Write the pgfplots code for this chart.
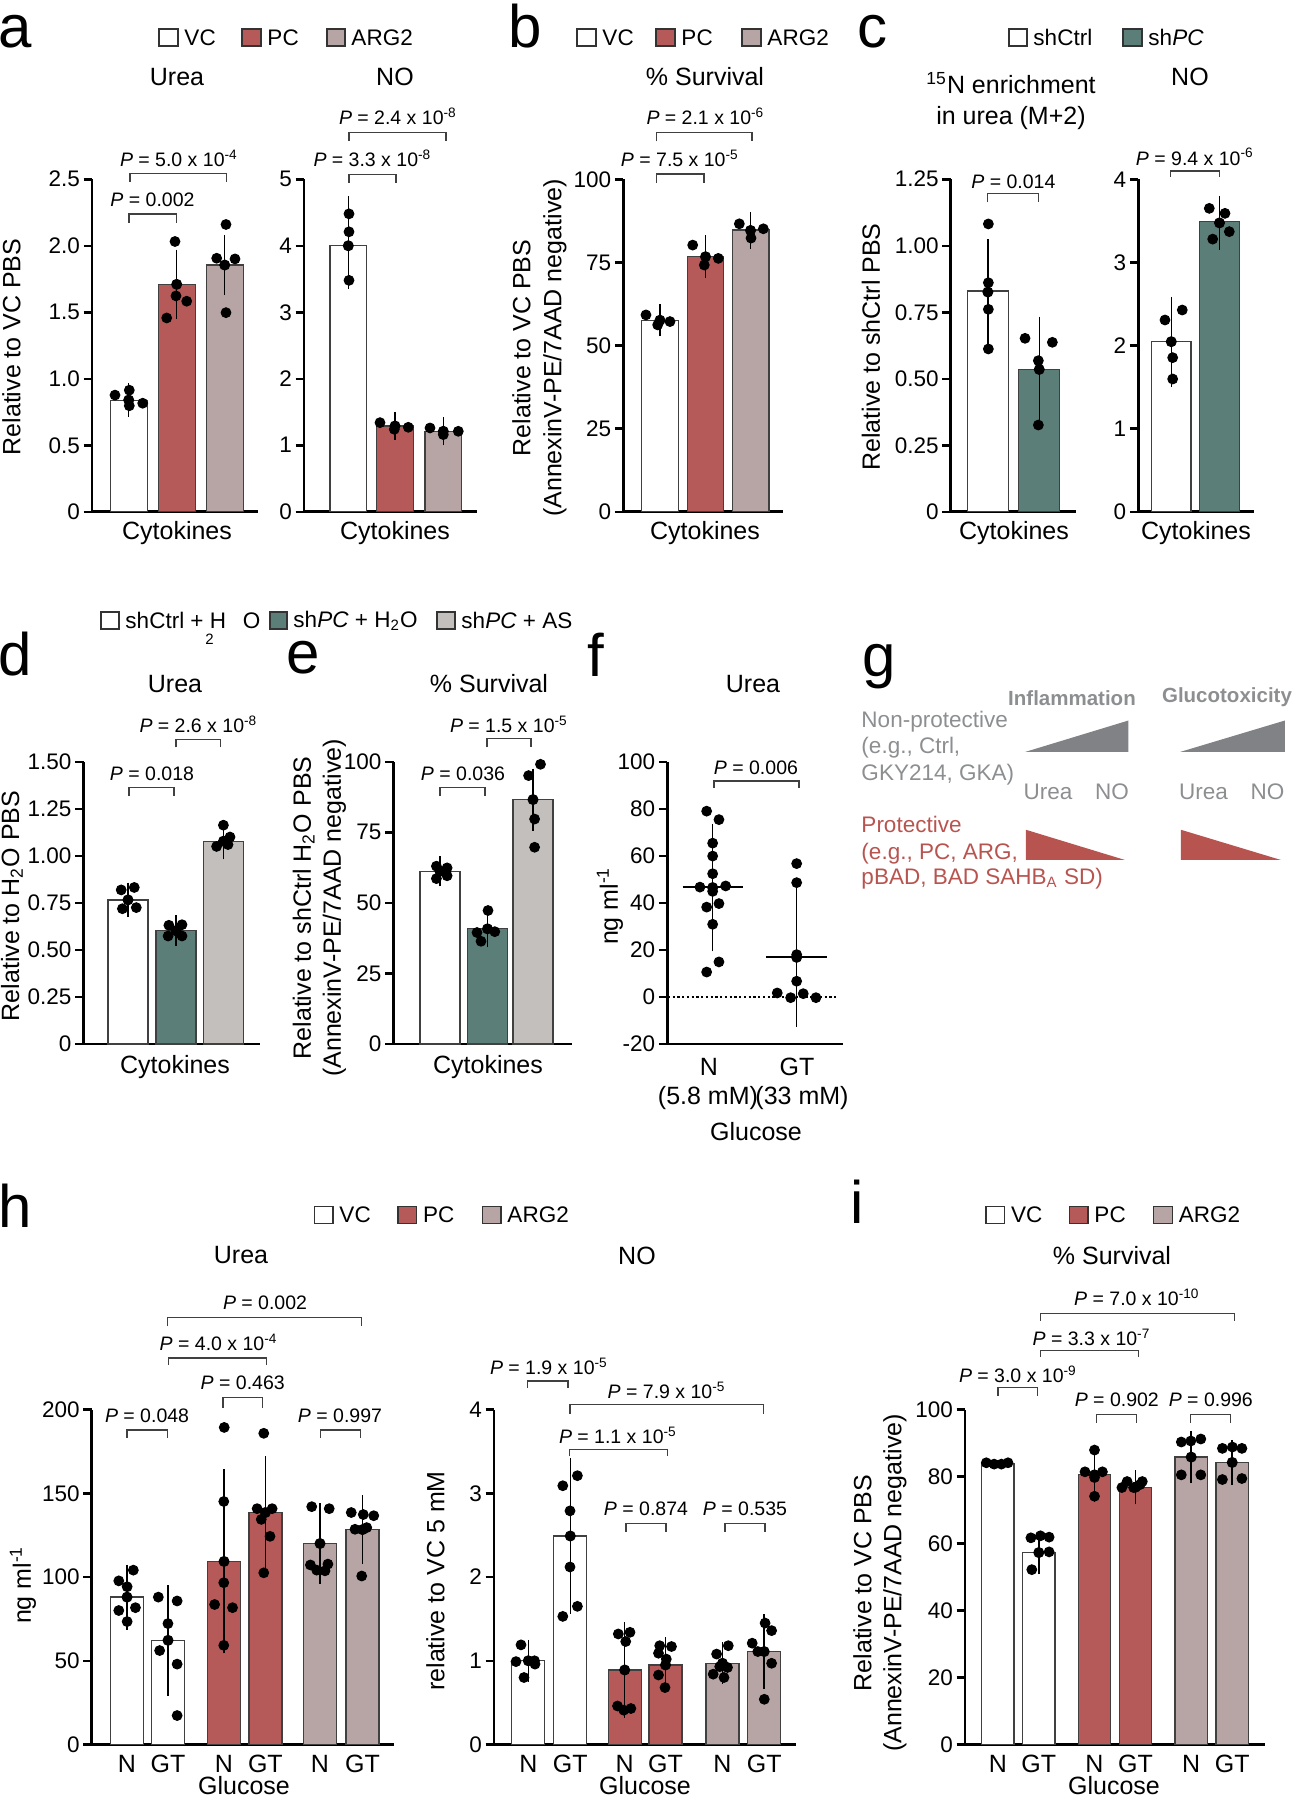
\documentclass[border=0pt]{standalone}
\usepackage{pgfplots}
\pgfplotsset{compat=1.18}
\usepackage{fontspec}
\setmainfont{Liberation Sans}

\definecolor{pcred}{RGB}{181,90,88}
\definecolor{argc}{RGB}{183,165,165}
\definecolor{shpc}{RGB}{91,126,121}
\definecolor{asgray}{RGB}{194,191,189}
\definecolor{ggray}{RGB}{128,130,133}
\definecolor{gtext}{RGB}{140,142,144}
\definecolor{gred}{RGB}{184,84,80}

\newcommand{\fs}[1]{\fontsize{#1}{#1}\selectfont}
\newcommand{\fsl}[2]{\fontsize{#1}{#2}\selectfont}
\newcommand{\pe}[2]{\textit{P} = #1 x 10\textsuperscript{-#2}}
\newcommand{\pv}[1]{\textit{P} = #1}
% bracket: x1, x2, ytop, yfoot, label x, label y, text
\newcommand{\brk}[7]{\draw[bk] (axis cs:#1,#4) |- (axis cs:#2,#3) -- (axis cs:#2,#4);
  \node[pvs] at (axis cs:#5,#6) {#7};}
% legend square: x1, x2, y, colour, text
\newcommand{\legsq}[5]{\draw[fill=#4, draw=black!80, line width=0.5pt] (#1,#3-8.5) rectangle (#2,#3+8.5);
  \node[anchor=west, font=\fs{9}, inner sep=0pt] at (#2+6,#3) {#5};}

\tikzset{bk/.style={line width=0.5pt, black!75}, pvs/.style={font=\fs{7.8}, inner sep=0pt}}

\pgfplotsset{
  panel/.style={scale only axis, anchor=south west, clip=false,
    axis x line*=bottom, axis y line*=left,
    axis line style={line width=1.1pt},
    xtick=\empty, ymin=0,
    ytick style={line width=1pt, black}, tick align=outside, major tick length=3.4pt,
    yticklabel style={font=\fs{9}, inner sep=1.2pt}},
  mybar/.style={ybar, bar shift=0pt, bar width=#1, draw=black!75, line width=0.5pt},
  pts/.style={only marks, mark=*, mark size=1.95pt, black},
  myerr/.style={black, only marks, mark=none, error bars/.cd, y dir=both, y explicit,
    error bar style={line width=0.6pt}, error mark options={line width=0.6pt, mark size=#1}},
}

\begin{document}
\begin{tikzpicture}
\path[use as bounding box] (0pt,0pt) rectangle (518.4pt,-720pt);

% ---------- a: Urea
\begin{axis}[panel, at={(36.8pt,-204.7pt)}, width=66.4pt, height=133pt,
  xmin=92, xmax=258, ymax=2.5, ytick={0,0.5,1,1.5,2,2.5}, yticklabels={0,0.5,1.0,1.5,2.0,2.5}]
\addplot[mybar=37, fill=white] coordinates {(128.7,0.837)};
\addplot[mybar=37, fill=pcred] coordinates {(176.7,1.71)};
\addplot[mybar=37, fill=argc] coordinates {(224.7,1.855)};
\addplot[myerr=4.6pt] coordinates {(128.7,0.84) +- (0,0.04) (176.7,1.71) +- (0,0.175) (224.7,1.855) +- (0,0.14)};
\addplot[pts] coordinates {(115,0.877)(129.3,0.914)(129.3,0.797)(142.7,0.816)
  (175,2.032)(176,1.623)(186.7,1.583)(166.7,1.457)
  (226,2.16)(216.7,1.906)(235,1.901)(226,1.497)};
\brk{129}{176.7}{2.238}{2.174}{152.5}{2.345}{\pv{0.002}}
\brk{130}{226.7}{2.545}{2.48}{179}{2.66}{\pe{5.0}{4}}
\end{axis}

% ---------- a: NO
\begin{axis}[panel, at={(121.6pt,-204.7pt)}, width=69.2pt, height=133pt,
  xmin=304, xmax=477, ymax=5, ytick={0,1,2,3,4,5}, yticklabels={0,1,2,3,4,5}]
\addplot[mybar=36.7, fill=white] coordinates {(348.3,4.0)};
\addplot[mybar=36.7, fill=pcred] coordinates {(395,1.29)};
\addplot[mybar=36.7, fill=argc] coordinates {(443.3,1.21)};
\addplot[myerr=4.6pt] coordinates {(348.3,4.0) += (0,0.57) -= (0,0.47) (395,1.29) +- (0,0.04) (443.3,1.21) +- (0,0.04)};
\addplot[pts] coordinates {(349,4.48)(349,4.21)(349,3.48)
  (380,1.34)(394.3,1.24)(408.3,1.27)
  (430,1.26)(443.3,1.16)(458.3,1.21)};
\brk{349}{396}{5.07}{4.95}{372.5}{5.32}{\pe{3.3}{8}}
\brk{349}{446}{5.70}{5.58}{398}{5.95}{\pe{2.4}{8}}
\end{axis}

% ---------- b
\begin{axis}[panel, at={(249.3pt,-204.7pt)}, width=63.8pt, height=133pt,
  xmin=623.3, xmax=782.7, ymax=100, ytick={0,25,50,75,100}, yticklabels={0,25,50,75,100}]
\addplot[mybar=36.7, fill=white] coordinates {(660,57.5)};
\addplot[mybar=36.7, fill=pcred] coordinates {(705.5,76.7)};
\addplot[mybar=36.7, fill=argc] coordinates {(750.5,84.75)};
\addplot[myerr=4.6pt] coordinates {(660,57.6) +- (0,1.4) (705.5,76.7) +- (0,3.0) (750.5,84.6) +- (0,2.05)};
\addplot[pts] coordinates {(646,59.2)(657.7,56.2)(670,57.2)
  (692.7,80.2)(704.3,74.2)(718.3,76.2)
  (739.3,86.6)(751,82.3)(763.3,85.1)};
\brk{656.7}{704}{101.6}{98.8}{680}{106.2}{\pe{7.5}{5}}
\brk{656.7}{752}{114.1}{111.4}{705.5}{118.9}{\pe{2.1}{6}}
\end{axis}

% ---------- c: 15N urea
\begin{axis}[panel, at={(380.3pt,-204.7pt)}, width=50pt, height=133pt,
  xmin=950.7, xmax=1075.7, ymax=1.25, ytick={0,0.25,0.5,0.75,1,1.25}, yticklabels={0,0.25,0.50,0.75,1.00,1.25}]
\addplot[mybar=41, fill=white] coordinates {(987.8,0.830)};
\addplot[mybar=41, fill=shpc] coordinates {(1039.2,0.535)};
\addplot[myerr=5pt] coordinates {(987.8,0.826) +- (0,0.152) (1039.2,0.535) +- (0,0.152)};
\addplot[pts] coordinates {(988.3,1.082)(988.3,0.861)(988.3,0.761)(988.3,0.612)
  (1025,0.652)(1052.3,0.637)(1038.3,0.568)(1038.3,0.326)};
\brk{987.3}{1038.3}{1.197}{1.163}{1013.3}{1.241}{\pv{0.014}}
\end{axis}

% ---------- c: NO
\begin{axis}[panel, at={(455.3pt,-204.7pt)}, width=46.3pt, height=133pt,
  xmin=1138.3, xmax=1254, ymax=4, ytick={0,1,2,3,4}, yticklabels={0,1,2,3,4}]
\addplot[mybar=39.3, fill=white] coordinates {(1171.3,2.046)};
\addplot[mybar=39.3, fill=shpc] coordinates {(1219.5,3.49)};
\addplot[myerr=5pt] coordinates {(1171.3,2.046) +- (0,0.39) (1219.5,3.475) +- (0,0.175)};
\addplot[pts] coordinates {(1165,2.307)(1182.3,2.427)(1172.7,1.854)(1172.7,1.597)
  (1209.3,3.65)(1225,3.59)(1212.7,3.28)(1229.3,3.37)};
\brk{1170.7}{1219.3}{4.10}{4.03}{1195}{4.27}{\pe{9.4}{6}}
\end{axis}

% ---------- d
\begin{axis}[panel, at={(33.4pt,-417.6pt)}, width=70.6pt, height=112.9pt,
  xmin=83.5, xmax=260, ymax=1.5, ytick={0,0.25,0.5,0.75,1,1.25,1.5},
  yticklabels={0,0.25,0.50,0.75,1.00,1.25,1.50}]
\addplot[mybar=40, fill=white] coordinates {(128,0.766)};
\addplot[mybar=40, fill=shpc] coordinates {(176,0.602)};
\addplot[mybar=40, fill=asgray] coordinates {(223.5,1.078)};
\addplot[myerr=4.6pt] coordinates {(128,0.766) +- (0,0.031) (176,0.602) +- (0,0.02) (223.5,1.078) +- (0,0.036)};
\addplot[pts] coordinates {(121.2,0.819)(134.3,0.832)(122.4,0.719)(136.3,0.725)
  (168.9,0.631)(182,0.634)(168.1,0.574)(182,0.574)
  (223.4,1.163)(216.6,1.05)(228,1.06)(230,1.10)};
\brk{129}{174}{1.365}{1.317}{152}{1.436}{\pv{0.018}}
\brk{176}{220.6}{1.619}{1.577}{198.5}{1.70}{\pe{2.6}{8}}
\end{axis}

% ---------- e
\begin{axis}[panel, at={(157.4pt,-417.6pt)}, width=71.4pt, height=112.9pt,
  xmin=393.5, xmax=572, ymax=100, ytick={0,25,50,75,100}, yticklabels={0,25,50,75,100}]
\addplot[mybar=40, fill=white] coordinates {(440,61.2)};
\addplot[mybar=40, fill=shpc] coordinates {(487.5,40.8)};
\addplot[mybar=40, fill=asgray] coordinates {(533,86.6)};
\addplot[myerr=4.6pt] coordinates {(440,61.2) +- (0,1.3) (487.5,40.8) +- (0,2.5) (533,86.6) +- (0,6.9)};
\addplot[pts] coordinates {(436.4,63.0)(447.1,62.4)(436.4,58.6)(447.1,59.6)
  (488,47.3)(477,39.5)(494.8,39.8)(481,36.4)
  (540.5,99.1)(528.6,95.1)(534.6,79.7)(534.6,69.7)};
\brk{440}{485}{91.0}{87.8}{463}{95.7}{\pv{0.036}}
\brk{487}{531}{108.2}{105.1}{509}{113.3}{\pe{1.5}{5}}
\end{axis}

% ---------- f
\begin{axis}[panel, at={(266.9pt,-417.6pt)}, width=70.4pt, height=112.9pt,
  xmin=667.3, xmax=843.3, ymin=-20, ymax=100, ytick={-20,0,20,40,60,80,100},
  yticklabels={-20,0,20,40,60,80,100}]
\addplot[densely dotted, line width=0.9pt, black] coordinates {(668,0)(836.7,0)};
\addplot[black, line width=0.7pt] coordinates {(682.7,46.7)(742.7,46.7)};
\addplot[black, line width=0.7pt] coordinates {(766,16.9)(826.7,16.9)};
\addplot[myerr=6.2pt] coordinates {(712.7,46.5) +- (0,20.55) (796.7,16.85) +- (0,22.95)};
\addplot[pts] coordinates {(706.7,79.0)(719,75.4)(712.7,65.4)(712.7,59.9)(712.7,52.4)(700,46.7)(725.7,47.2)
  (712.7,44.9)(706.7,38.2)(719,39.7)(712.7,30.9)(719,14.9)(706.7,10.6)
  (796.7,56.7)(796.7,48.6)(796.7,18.0)(796.7,6.7)(777.3,1.7)(790.7,-0.3)(803.3,1.4)(816,-0.3)};
\brk{714}{799}{91.8}{88.8}{756}{97.5}{\pv{0.006}}
\end{axis}

% ---------- h: Urea
\begin{axis}[panel, at={(36.7pt,-697.8pt)}, width=120.8pt, height=134pt,
  xmin=91.7, xmax=393.75, ymax=200, ytick={0,50,100,150,200}, yticklabels={0,50,100,150,200}]
\addplot[mybar=33, fill=white] coordinates {(127,88.0)(168,62.2)};
\addplot[mybar=33, fill=pcred] coordinates {(224,109.3)(265.4,138.5)};
\addplot[mybar=33, fill=argc] coordinates {(320,120.0)(362.5,128.3)};
\addplot[myerr=4.3pt] coordinates {(127,88.0) +- (0,13) (168,62.2) +- (0,26.6) (224,109.3) +- (0,48.5)
  (265.4,138.5) +- (0,27.2) (320,120.0) +- (0,17.5) (362.5,128.3) +- (0,14)};
\addplot[pts] coordinates {(133.3,104.1)(118.75,97.7)(127.1,94.2)(118.75,80.0)(135.4,81.7)(127.1,73.4)
  (158.3,88.0)(177.1,85.7)(167.9,72.2)(159.6,56.1)(177.1,48.0)(177.1,17.3)
  (224.2,189.3)(223.75,145.1)(223.75,96.6)(214.6,83.6)(232.5,81.7)(223.75,59.2)
  (263.75,185.8)(257.1,140.8)(272.1,140.8)(261.25,134.4)(270,124.3)(263.75,102.5)
  (311.7,142.0)(329.2,140.8)(310.4,107.2)(327.9,107.7)(316.7,104.1)(325,103.7)
  (351.25,138.5)(363.3,137.3)(373.75,136.6)(355,128.5)(366.7,129.5)(361.7,100.6)};
\brk{127}{167.5}{187.7}{183}{147}{196.4}{\pv{0.048}}
\brk{223}{262.5}{207.1}{201.2}{242.7}{215.9}{\pv{0.463}}
\brk{320.8}{360.4}{187.7}{183}{340}{196.4}{\pv{0.997}}
\brk{168.75}{266.7}{230.8}{226.7}{218.7}{240.2}{\pe{4.0}{4}}
\brk{167.5}{361.7}{254.9}{249.7}{265}{263.9}{\pv{0.002}}
\end{axis}

% ---------- h: NO
\begin{axis}[panel, at={(197.6pt,-697.8pt)}, width=120.8pt, height=134pt,
  xmin=494, xmax=796, ymax=4, ytick={0,1,2,3,4}, yticklabels={0,1,2,3,4}]
\addplot[mybar=33, fill=white] coordinates {(528.3,1.0)(570.3,2.49)};
\addplot[mybar=33, fill=pcred] coordinates {(624.7,0.89)(665.5,0.95)};
\addplot[mybar=33, fill=argc] coordinates {(722.5,0.97)(764.2,1.11)};
\addplot[myerr=4.3pt] coordinates {(528.3,1.0) +- (0,0.12) (570.3,2.49) +- (0,0.8) (624.7,0.89) +- (0,0.44)
  (665.5,0.95) +- (0,0.2) (722.5,0.97) +- (0,0.12) (764.2,1.11) +- (0,0.32)};
\addplot[pts] coordinates {(521,1.19)(516,0.99)(534.5,1.00)(535,0.96)(524,0.80)
  (577.4,3.21)(562.8,3.09)(570,2.79)(570,2.12)(577.4,1.65)(562.8,1.53)
  (618.3,1.32)(630,1.34)(625.7,1.23)(617.5,0.46)(623.8,0.41)(630.9,0.43)
  (659.7,1.18)(671.5,1.17)(658.5,1.09)(666.3,1.02)(658.5,0.83)(665,0.68)
  (716.6,1.08)(728.3,1.18)(719.7,0.93)(727.5,0.92)(724,0.80)(713.2,0.84)
  (765.1,1.45)(771.6,1.36)(752.2,1.21)(757.8,1.11)(771.6,0.97)(764.3,0.54)};
\brk{527.5}{568}{4.34}{4.26}{549}{4.52}{\pe{1.9}{5}}
\brk{569.3}{667.3}{3.52}{3.44}{618}{3.69}{\pe{1.1}{5}}
\brk{570}{763.3}{4.06}{3.95}{666.7}{4.23}{\pe{7.9}{5}}
\brk{626}{666}{2.64}{2.54}{646}{2.82}{\pv{0.874}}
\brk{725}{765}{2.64}{2.54}{745}{2.82}{\pv{0.535}}
\end{axis}

% ---------- i
\begin{axis}[panel, at={(386pt,-697.8pt)}, width=120pt, height=134pt,
  xmin=965, xmax=1265, ymax=100, ytick={0,20,40,60,80,100}, yticklabels={0,20,40,60,80,100}]
\addplot[mybar=32.5, fill=white] coordinates {(997.8,83.8)(1038.8,57.3)};
\addplot[mybar=32.5, fill=pcred] coordinates {(1094.5,80.5)(1135.5,76.8)};
\addplot[mybar=32.5, fill=argc] coordinates {(1191.2,85.8)(1232.2,84.2)};
\addplot[myerr=4.2pt] coordinates {(1038.8,57.3) +- (0,3.4) (1094.5,80.5) +- (0,5.0)
  (1135.5,76.8) +- (0,2.0) (1191.2,85.8) +- (0,4.7) (1232.2,84.2) +- (0,3.6)};
\addplot[pts] coordinates {(986.3,84.1)(994.1,83.7)(1001.4,83.7)(1008,84.1)
  (1030.9,61.7)(1040.4,62.3)(1049.1,61.9)(1049.1,57.5)(1031.8,52.2)
  (1094.5,87.9)(1085,81.4)(1102.4,81.4)(1094.5,79.7)(1094.5,74.1)
  (1127.1,78.5)(1142.3,78.5)(1121.9,76.7)(1133.6,76.7)(1140.1,77.6)
  (1181.3,90.3)(1190.8,90.6)(1200.8,91.2)(1181.3,80.5)(1200.8,80.5)
  (1222.4,88.4)(1232.4,88.8)(1241.9,88.4)(1222.4,79.1)(1241.9,79.4)};
\brk{998}{1037.4}{106.5}{103.9}{1018}{110.6}{\pe{3.0}{9}}
\brk{1096.8}{1136.6}{98.6}{96.0}{1116.8}{102.9}{\pv{0.902}}
\brk{1190.8}{1230.6}{98.6}{96.0}{1210.8}{102.9}{\pv{0.996}}
\brk{1040.4}{1138.8}{117.7}{115.7}{1091.6}{121.6}{\pe{3.3}{7}}
\brk{1040.4}{1234.5}{128.7}{126.5}{1137}{133.4}{\pe{7.0}{10}}
\end{axis}

% ---------- texts, legends, schematic (pixel grid of the reference)
\begin{scope}[x=0.4pt, y=-0.4pt]
% panel letters
\foreach \l/\x/\y in {a/-2/47, b/508/47, c/857/47, d/-2/676, e/286/674, f/587/677, g/862/677, h/-2/1227.7, i/850/1224}
  \node[anchor=base west, inner sep=0pt, font=\fs{24}] at (\x,\y) {\l};

% legends
\legsq{159}{178}{37.4}{white}{VC}
\legsq{242}{261}{37.4}{pcred}{PC}
\legsq{327}{345}{37.4}{argc}{ARG2}
\legsq{577}{596}{37.4}{white}{VC}
\legsq{656}{675}{37.4}{pcred}{PC}
\legsq{742}{761}{37.4}{argc}{ARG2}
\legsq{1009}{1027}{37.4}{white}{shCtrl}
\legsq{1123}{1142}{37.4}{shpc}{sh\textit{PC}}
\legsq{101}{119}{620.5}{white}{shCtrl + H\hspace{0.75em}O}
\node[font=\fs{6}, inner sep=0pt] at (209.5,639.5) {2};
\legsq{270}{287}{620.5}{shpc}{sh\textit{PC} + H\textsubscript{2}O}
\legsq{437}{455}{620.5}{asgray}{sh\textit{PC} + AS}
\legsq{314.6}{333}{1215}{white}{VC}
\legsq{398}{416.7}{1215}{pcred}{PC}
\legsq{482.5}{501}{1215}{argc}{ARG2}
\legsq{986}{1004.7}{1215}{white}{VC}
\legsq{1069.7}{1088}{1215}{pcred}{PC}
\legsq{1153.8}{1172.4}{1215}{argc}{ARG2}

% titles
\begin{scope}[every node/.style={font=\fs{10}, inner sep=0pt}]
\node at (177,76.7) {Urea};
\node at (395,76.7) {NO};
\node at (705,76.7) {\% Survival};
\node[align=center, font=\fsl{10}{12.3}] at (1011,101) {\textsuperscript{15}N enrichment\\in urea (M+2)};
\node at (1190,76.7) {NO};
\node at (175,684) {Urea};
\node at (489,684) {\% Survival};
\node at (753,684) {Urea};
\node at (241,1255.5) {Urea};
\node at (637,1255.5) {NO};
\node at (1112,1255.5) {\% Survival};
% x labels
\node at (177,533) {Cytokines};
\node at (395,533) {Cytokines};
\node at (705,533) {Cytokines};
\node at (1014,533) {Cytokines};
\node at (1196,533) {Cytokines};
\node at (175,1067) {Cytokines};
\node at (488,1067) {Cytokines};
\node at (709,1067) {N};
\node at (797,1067) {GT};
\node at (708,1098) {(5.8 mM)};
\node at (802,1098) {(33 mM)};
\node at (756,1132) {Glucose};
\foreach \x/\t in {127/N,168/GT,224/N,265.4/GT,320/N,362.5/GT,
                   528.3/N,570.3/GT,624.7/N,665.5/GT,722.5/N,764.2/GT,
                   997.8/N,1038.8/GT,1094.5/N,1135.5/GT,1191.2/N,1232.2/GT}
  \node at (\x,1764) {\t};
\node at (244,1786) {Glucose};
\node at (645,1786) {Glucose};
\node at (1114,1786) {Glucose};
% y labels
\node[rotate=90] at (11.5,347) {Relative to VC PBS};
\node[rotate=90, align=center, font=\fsl{10}{12.4}] at (539.5,348) {Relative to VC PBS\\(AnnexinV-PE/7AAD negative)};
\node[rotate=90] at (871,347) {Relative to shCtrl PBS};
\node[rotate=90] at (12,906) {Relative to H\textsubscript{2}O PBS};
\node[rotate=90, align=center, font=\fsl{10}{12}] at (319.5,908) {Relative to shCtrl H\textsubscript{2}O PBS\\(AnnexinV-PE/7AAD negative)};
\node[rotate=90] at (610,906) {ng ml\textsuperscript{-1}};
\node[rotate=90] at (23,1585) {ng ml\textsuperscript{-1}};
\node[rotate=90] at (435.4,1581) {relative to VC 5 mM};
\node[rotate=90, align=center, font=\fsl{10}{12}] at (880,1583) {Relative to VC PBS\\(AnnexinV-PE/7AAD negative)};
\end{scope}

% g schematic
\node[font=\fs{8.2}\bfseries, text=gtext, inner sep=0pt] at (1072,697.7) {Inflammation};
\node[font=\fs{8.2}\bfseries, text=gtext, inner sep=0pt] at (1227,697.7) {Glucotoxicity};
\begin{scope}[every node/.style={font=\fs{9}, anchor=base west, inner sep=0pt}]
\node[text=gtext] at (861,728) {Non-protective};
\node[text=gtext] at (861,754) {(e.g., Ctrl,};
\node[text=gtext] at (861,781) {GKY214, GKA)};
\node[text=gred] at (861,833) {Protective};
\node[text=gred] at (861,860) {(e.g., PC, ARG,};
\node[text=gred] at (861,885) {pBAD, BAD SAHB\textsubscript{A} SD)};
\end{scope}
\fill[ggray] (1025,752) -- (1128.5,752) -- (1128.5,720.5) -- cycle;
\fill[ggray] (1180,752) -- (1285,752) -- (1285,720.5) -- cycle;
\fill[gred] (1026,829.8) -- (1026,860) -- (1125,860) -- cycle;
\fill[gred] (1181,829.8) -- (1181,860) -- (1281,860) -- cycle;
\begin{scope}[every node/.style={font=\fs{9}, text=gtext, inner sep=0pt}]
\node at (1048,791.7) {Urea};
\node at (1112,791.7) {NO};
\node at (1203.5,791.7) {Urea};
\node at (1267.5,791.7) {NO};
\end{scope}
\end{scope}
\end{tikzpicture}
\end{document}
